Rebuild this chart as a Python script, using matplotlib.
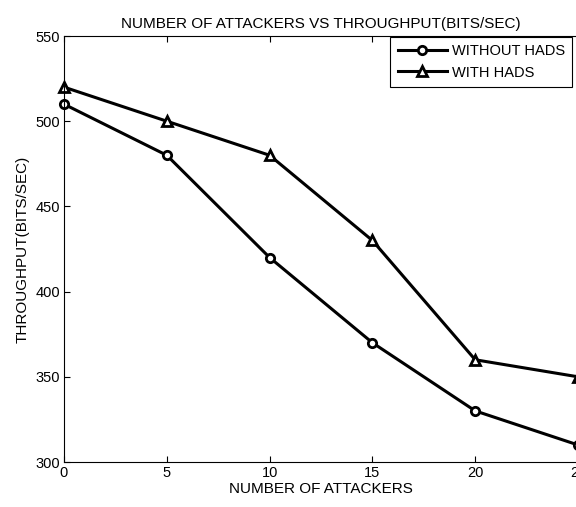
import matplotlib
matplotlib.use('Agg')
import matplotlib.pyplot as plt

attackers = [0, 5, 10, 15, 20, 25]
without_hads = [510, 480, 420, 370, 330, 310]
with_hads = [520, 500, 480, 430, 360, 350]

plt.rcParams['font.family'] = ['Liberation Sans', 'DejaVu Sans']

fig = plt.figure(figsize=(5.76, 5.07), dpi=100)
# the right edge of the axes sits just past the picture, as in the reference
ax = fig.add_axes([64 / 576, 45 / 507, 514 / 576, 426 / 507])

ax.plot(attackers, without_hads, color='k', linewidth=2.2, marker='o', markersize=6,
        markerfacecolor='white', markeredgewidth=2, label='WITHOUT HADS', clip_on=False)
ax.plot(attackers, with_hads, color='k', linewidth=2.2, marker='^', markersize=7,
        markerfacecolor='white', markeredgewidth=2, label='WITH HADS', clip_on=False)

ax.set_xlim(0, 25)
ax.set_ylim(300, 550)
ax.set_xticks(attackers)
ax.set_yticks([300, 350, 400, 450, 500, 550])
ax.tick_params(direction='in', top=True, right=False, labelsize=10.5, length=4, width=0.8, pad=3)
for s in ax.spines.values():
    s.set_linewidth(0.8)

ax.set_title('NUMBER OF ATTACKERS VS THROUGHPUT(BITS/SEC)', fontsize=11, pad=6)
ax.set_xlabel('NUMBER OF ATTACKERS', fontsize=11, labelpad=1)
ax.set_ylabel('THROUGHPUT(BITS/SEC)', fontsize=11, labelpad=4)

lgd = ax.legend(loc='upper right', bbox_to_anchor=(572 / 576, 470 / 507),
                bbox_transform=fig.transFigure, fancybox=False, framealpha=1,
                edgecolor='k', fontsize=10.5, handlelength=3.4, borderpad=0.5,
                labelspacing=0.5, handletextpad=0.3, borderaxespad=0)
lgd.get_frame().set_linewidth(0.8)

fig.savefig('out.png', dpi=100)
